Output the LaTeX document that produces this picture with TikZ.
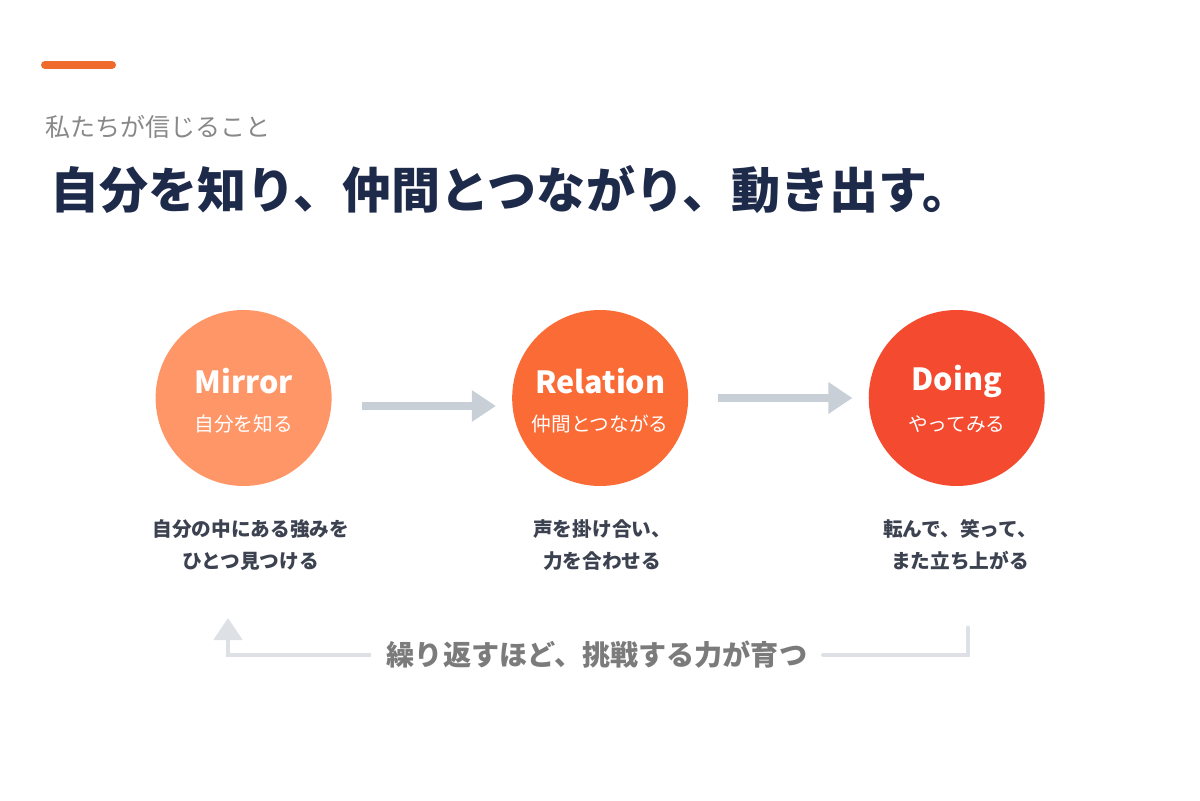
\documentclass[tikz,border=0pt]{standalone}
\usepackage{fontspec}
\setmainfont{Noto Sans CJK JP}
\usetikzlibrary{positioning,arrows.meta}
\definecolor{accent}{HTML}{EE6B2B}
\definecolor{navy}{HTML}{1E2A4A}
\definecolor{subgray}{HTML}{888888}
\definecolor{textgray}{HTML}{3C4250}
\definecolor{loopgray}{HTML}{7B7B7B}
\definecolor{arrowgray}{HTML}{C9CFD7}
\definecolor{linegray}{HTML}{DDE0E5}
\definecolor{mirrorc}{HTML}{FF9668}
\definecolor{relationc}{HTML}{FA6B36}
\definecolor{doingc}{HTML}{F44A2F}
\tikzset{
  stage/.style={circle,minimum size=4.4cm,inner sep=0pt},
  stagename/.style={text=white,font=\bfseries\fontsize{21.7}{24}\selectfont},
  stagesub/.style={text=white,font=\fontsize{14}{16}\selectfont},
  desc/.style={text=textgray,align=center,font=\bfseries\fontsize{14}{22.8}\selectfont},
  flow/.style={arrowgray,line width=5pt,-{Triangle[length=0.6cm,width=0.75cm]}},
  back/.style={linegray,line width=3.5pt,line cap=round},
}
\begin{document}
\begin{tikzpicture}
\useasboundingbox (0,0) rectangle (30,20);
\draw[accent,line width=5.7pt,line cap=round] (1.125,18.375)--(2.8,18.375);
\node[anchor=west,text=subgray,font=\fontsize{17.8}{20}\selectfont,inner sep=0pt] (kicker) at (1.125,16.825) {私たちが信じること};
\node[anchor=west,text=navy,font=\bfseries\fontsize{34.9}{38}\selectfont,inner sep=0pt] (title) at (1.25,15.25) {自分を知り、仲間とつながり、動き出す。};

\node[stage,fill=mirrorc] (mirror) at (6.09,10.05) {};
\node[stage,fill=relationc,right=4.5cm of mirror] (relation) {};
\node[stage,fill=doingc,right=4.5cm of relation] (doing) {};

\node[stagename] (mirrorname) at ([yshift=0.42cm]mirror.center) {Mirror};
\node[stagesub] (mirrorsub) at ([yshift=-0.65cm]mirror.center) {自分を知る};
\node[stagename] (relationname) at ([yshift=0.42cm]relation.center) {Relation};
\node[stagesub] (relationsub) at ([yshift=-0.65cm]relation.center) {仲間とつながる};
\node[stagename] (doingname) at ([yshift=0.42cm]doing.center) {Doing};
\node[stagesub] (doingsub) at ([yshift=-0.65cm]doing.center) {やってみる};

\draw[flow,shorten <=0.75cm,shorten >=0.4cm] ([yshift=-0.2cm]mirror.east)--([yshift=-0.2cm]relation.west);
\draw[flow,shorten <=0.75cm,shorten >=0.4cm] (relation.east)--(doing.west);

\node[desc,below=0.7cm of mirror,xshift=0.18cm] (mirrortxt) {自分の中にある強みを\\ひとつ見つける};
\node[desc,below=0.7cm of relation,xshift=0.05cm] (relationtxt) {声を掛け合い、\\力を合わせる};
\node[desc,below=0.7cm of doing,xshift=0.08cm] (doingtxt) {転んで、笑って、\\また立ち上がる};

\node[text=loopgray,font=\bfseries\fontsize{20}{22}\selectfont,inner xsep=0.4cm] (loop) at (14.925,3.625) {繰り返すほど、挑戦する力が育つ};
\coordinate (loopstart) at (24.2,4.3);
\coordinate (loopend) at (5.7,4.55);
\draw[back] (loopstart)--(loopstart|-loop.east)--(loop.east);
\draw[back,line cap=butt,-{Triangle[length=0.55cm,width=0.7cm]}] (loop.west)--(loopend|-loop.west)--(loopend);
\end{tikzpicture}
\end{document}
